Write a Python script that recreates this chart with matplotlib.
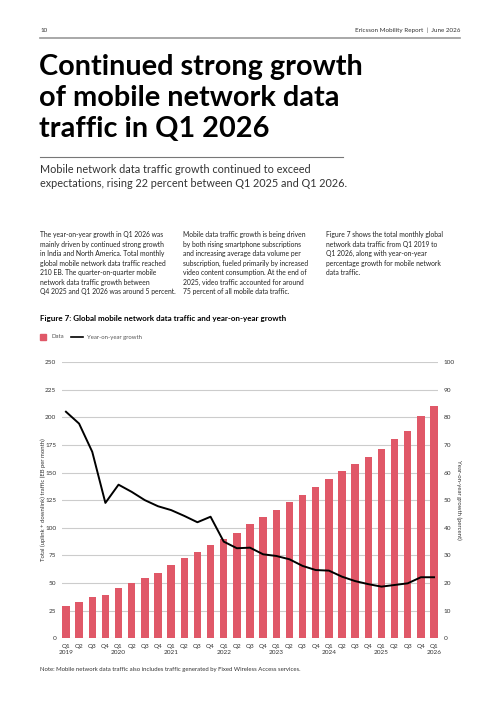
import numpy as np
import matplotlib
matplotlib.use('Agg')
import matplotlib.pyplot as plt
from matplotlib.patches import Rectangle
from matplotlib.lines import Line2D

plt.rcParams['font.family'] = ['Lato', 'DejaVu Sans']

# ==================== Datos ====================
quarters = ['Q1', 'Q2', 'Q3', 'Q4'] * 7 + ['Q1']
years = ['2019', '2020', '2021', '2022', '2023', '2024', '2025', '2026']
traffic_eb = [29, 33, 37, 39.5, 45.5, 50, 55, 59, 66, 72.5, 78, 84.5,
              90, 95.5, 103.5, 110, 116, 123, 130, 137, 144.5, 151,
              157.5, 164, 171.5, 180, 188, 201, 210]
yoy_growth = [82, 77.7, 67.5, 49, 55.6, 53, 50, 47.8, 46.4, 44.3, 42, 44,
              35, 32.6, 32.8, 30.4, 29.8, 28.6, 26.2, 24.7, 24.5, 22.3,
              20.7, 19.6, 18.7, 19.3, 19.9, 22.1, 22.1]

RED = '#e05868'
W, H = 500, 707


def px(x, y):
    return x / W, 1 - y / H


fig = plt.figure(figsize=(W / 100, H / 100), dpi=100)
fig.patch.set_facecolor('white')

# Cabecera
fig.text(*px(40, 30), '10', fontsize=4.5, color='#333333', va='center')
fig.text(*px(460, 30), 'Ericsson Mobility Report  |  June 2026', fontsize=4.5,
         color='#333333', va='center', ha='right')
fig.add_artist(Line2D([40 / W, 460 / W], [1 - 38 / H] * 2, color='#999999', lw=1.2))

# Titulo
titulo = 'Continued strong growth\nof mobile network data\ntraffic in Q1 2026'
fig.text(*px(39, 54), titulo, fontsize=20.8, fontweight='bold', color='black',
         va='top', linespacing=1.24)
fig.add_artist(Line2D([40 / W, 343 / W], [1 - 157 / H] * 2, color='#777777', lw=0.8))
fig.text(*px(40, 164), 'Mobile network data traffic growth continued to exceed\n'
         'expectations, rising 22 percent between Q1 2025 and Q1 2026.',
         fontsize=7.8, color='#333333', va='top', linespacing=1.3)

# Columnas de texto
col1 = ('The year-on-year growth in Q1 2026 was\n'
        'mainly driven by continued strong growth\n'
        'in India and North America. Total monthly\n'
        'global mobile network data traffic reached\n'
        '210 EB. The quarter-on-quarter mobile\n'
        'network data traffic growth between\n'
        'Q4 2025 and Q1 2026 was around 5 percent.')
col2 = ('Mobile data traffic growth is being driven\n'
        'by both rising smartphone subscriptions\n'
        'and increasing average data volume per\n'
        'subscription, fueled primarily by increased\n'
        'video content consumption. At the end of\n'
        '2025, video traffic accounted for around\n'
        '75 percent of all mobile data traffic.')
col3 = ('Figure 7 shows the total monthly global\n'
        'network data traffic from Q1 2019 to\n'
        'Q1 2026, along with year-on-year\n'
        'percentage growth for mobile network\n'
        'data traffic.')
for x, txt in [(40, col1), (183, col2), (326, col3)]:
    fig.text(*px(x, 231.5), txt, fontsize=4.85, color='#222222', va='top', linespacing=1.4)

fig.text(*px(40, 319), 'Figure 7: Global mobile network data traffic and year-on-year growth',
         fontsize=5.8, fontweight='bold', color='black', va='center')

# Leyenda
fig.add_artist(Rectangle(px(40, 340), 6 / W, 6 / H, color=RED))
fig.text(*px(51, 337), 'Data', fontsize=4.3, color='#555555', va='center')
fig.add_artist(Line2D([71 / W, 83 / W], [1 - 337 / H] * 2, color='black', lw=1.2))
fig.text(*px(87, 337), 'Year-on-year growth', fontsize=4.3, color='#555555', va='center')

# ==================== Grafico ====================
ax = fig.add_axes([62 / W, 1 - 638.3 / H, (438 - 62) / W, (638.3 - 362) / H])
x = np.arange(len(traffic_eb))
ax.bar(x, traffic_eb, width=0.56, color=RED, zorder=3)
ax.set_xlim(-0.3, len(x) - 0.7)
ax.set_ylim(0, 250)
ax.set_yticks(np.arange(0, 251, 25))
ax.grid(axis='y', color='#cccccc', lw=0.8, zorder=0)

etiquetas = []
yi = 0
for i, q in enumerate(quarters):
    if q == 'Q1':
        etiquetas.append(q + '\n' + years[yi])
        yi += 1
    else:
        etiquetas.append(q)
ax.set_xticks(x)
ax.set_xticklabels(etiquetas, fontsize=4.6, color='#333333', linespacing=1.35, va='top')
ax.tick_params(axis='both', length=0, labelsize=4.6, labelcolor='#333333')
ax.tick_params(axis='x', pad=4)
ax.tick_params(axis='y', pad=4)
for s in ax.spines.values():
    s.set_visible(False)

ax2 = ax.twinx()
ax2.plot(x, yoy_growth, color='black', lw=1.4, zorder=4)
ax2.set_ylim(0, 100)
ax2.set_yticks(np.arange(0, 101, 10))
ax2.tick_params(axis='y', length=0, labelsize=4.6, labelcolor='#333333', pad=4)
for s in ax2.spines.values():
    s.set_visible(False)

fig.text(*px(43, 500), 'Total (uplink + downlink) traffic (EB per month)', fontsize=4.3,
         color='#333333', rotation=90, ha='center', va='center')
fig.text(*px(459, 500), 'Year-on-year growth (percent)', fontsize=4.3,
         color='#333333', rotation=270, ha='center', va='center')

fig.text(*px(40, 670), 'Note: Mobile network data traffic also includes traffic generated '
         'by Fixed Wireless Access services.', fontsize=4.3, color='#333333', va='center')

fig.savefig('out.png', dpi=100)
